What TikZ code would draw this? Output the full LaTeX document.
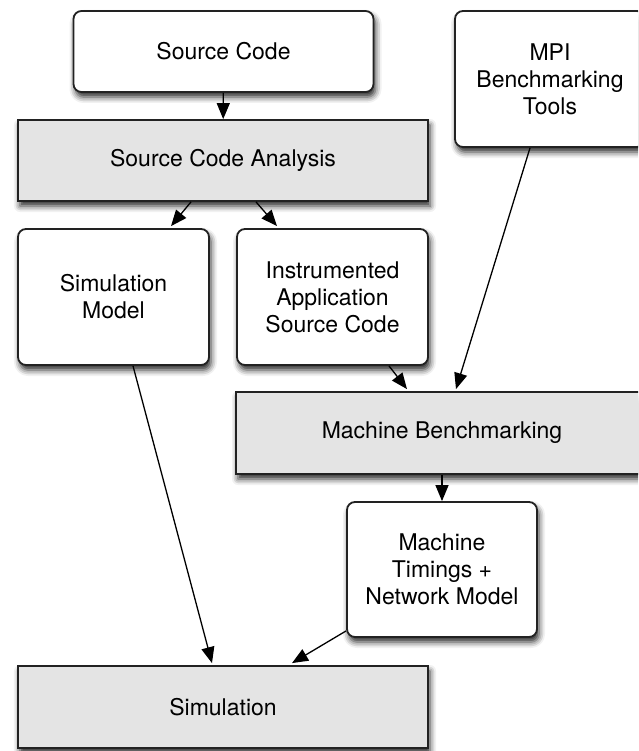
\documentclass[tikz,border=0pt]{standalone}
\usepackage{fontspec}
\setmainfont{TeX Gyre Heros}
\usepackage{tikz}
\usetikzlibrary{calc,positioning,shapes,shadows,shadows.blur,arrows.meta}
\definecolor{boxgray}{HTML}{E4E4E4}
\definecolor{boxline}{HTML}{222222}
\tikzset{
	base/.style={draw=boxline,line width=1.8pt,align=center,inner sep=0pt,font=\fontsize{23}{27}\selectfont,blur shadow={shadow xshift=2pt,shadow yshift=-5pt,shadow blur radius=6pt,shadow opacity=85}},
	item/.style={base,fill=white,rounded corners=8pt},
	process/.style={base,fill=boxgray},
	flow/.style={-{Triangle[length=16pt,width=13pt]},line width=1.3pt,black}
}

\begin{document}
\begin{tikzpicture}[x=1pt,y=-1pt]
		\useasboundingbox (0,0) rectangle (638,751);
		\clip (0,0) rectangle (638,751);
		\node(1) [item,minimum width=300pt,minimum height=81pt] at (223.5,51.5) {Source Code};
		\node(2) [process,minimum width=410pt,minimum height=81pt] at (223,160.5) {Source Code Analysis};
		\node(3) [item,minimum width=190pt,minimum height=136pt] at (550,79) {MPI\\Benchmarking\\Tools};
		\node(4) [item,minimum width=191pt,minimum height=136pt] at (113.5,297) {Simulation\\Model};
		\node(5) [item,minimum width=191pt,minimum height=136pt] at (332.5,297) {Instrumented\\Application\\Source Code};
		\node(6) [process,minimum width=412pt,minimum height=82pt] at (442,433) {Machine Benchmarking};
		\node(7) [item,minimum width=190pt,minimum height=135pt] at (442,569.5) {Machine\\Timings +\\Network Model};
		\node(8) [process,minimum width=410pt,minimum height=82pt] at (223,707) {Simulation};
		\path[flow]
			(1) edge (2)
			($(2.south)+(-32,0)$) edge ($(4.north)+(57.5,-2)$)
			($(2.south)+(33,0)$) edge ($(5.north)+(-55.5,-2)$)
			($(5.south)+(56.5,0)$) edge ($(6.north)+(-35,-2)$)
			($(3.south)+(-20,0)$) edge ($(6.north)+(14,-2)$)
			(6) edge (7)
			($(4.south)+(19.5,0)$) edge ($(8.north)+(-11,-2)$)
			($(7.south west)+(0,-7)$) edge ($(8.north)+(69,-2)$);
	\end{tikzpicture}
\end{document}
